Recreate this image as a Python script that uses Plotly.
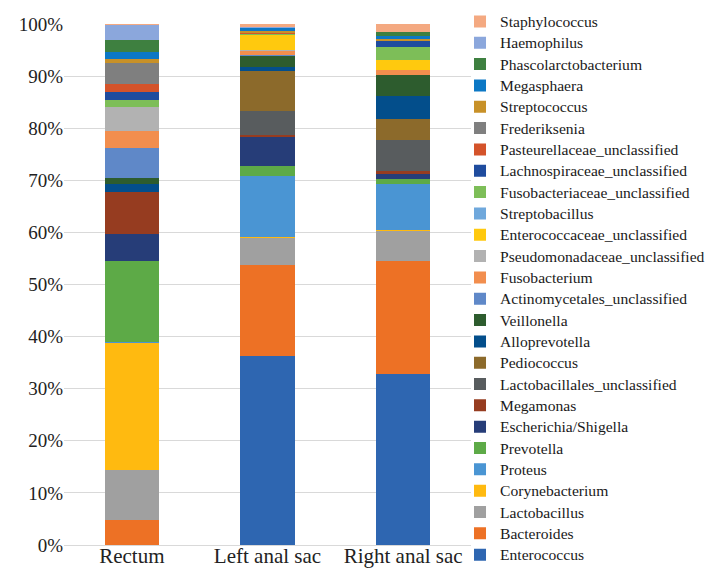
import plotly.graph_objects as go

categories = ["Rectum", "Left anal sac", "Right anal sac"]

# bottom-to-top stacking order
taxa = [
    "Enterococcus", "Bacteroides", "Lactobacillus", "Corynebacterium", "Proteus",
    "Prevotella", "Escherichia/Shigella", "Megamonas", "Lactobacillales_unclassified",
    "Pediococcus", "Alloprevotella", "Veillonella", "Actinomycetales_unclassified",
    "Fusobacterium", "Pseudomonadaceae_unclassified", "Enterococcaceae_unclassified",
    "Streptobacillus", "Fusobacteriaceae_unclassified", "Lachnospiraceae_unclassified",
    "Pasteurellaceae_unclassified", "Frederiksenia", "Streptococcus", "Megasphaera",
    "Phascolarctobacterium", "Haemophilus", "Staphylococcus",
]

# relative abundance (%) per sample, same order as taxa
rectum = [0, 4.85, 9.5, 24.5, 0.2, 15.5, 5.2, 8.1, 0, 0, 1.5, 1.1, 5.75, 3.2, 4.7,
          0, 0, 1.35, 1.5, 1.6, 3.9, 0.77, 1.4, 2.36, 2.92, 0.1]
left_anal_sac = [36.2, 17.5, 5.25, 0.2, 11.6, 2.0, 5.5, 0.5, 4.5, 7.8, 0.77, 2.2, 0.05,
                 0.8, 0.2, 2.85, 0.05, 0.15, 0.15, 0.05, 0.1, 0.15, 0.75, 0.1, 0.06, 0.52]
right_anal_sac = [32.9, 21.6, 5.8, 0.25, 8.8, 0.9, 1.0, 0.46, 5.95, 4.1, 4.5, 4.0, 0,
                  0.9, 0, 2.0, 0, 2.4, 1.3, 0, 0, 0.2, 0.65, 0.77, 0, 1.52]

colors = [
    "#2E66B1", "#ED7125", "#A0A0A0", "#FFBA10", "#4A95D3",
    "#5DAA47", "#263D78", "#963C20", "#585C5E",
    "#8C6A2B", "#034E8B", "#2D5C2E", "#5F88C8",
    "#F28E4E", "#B2B2B2", "#FFC90E",
    "#6FA8DC", "#7DBE58", "#1F4C9E",
    "#D4532A", "#7F7F7F", "#C89128", "#0C78C5",
    "#3E8040", "#8BA7DC", "#F4A981",
]

fig = go.Figure()
for i, name in enumerate(taxa):
    vals = [rectum[i] / 100, left_anal_sac[i] / 100, right_anal_sac[i] / 100]
    fig.add_trace(go.Bar(
        x=categories, y=vals,
        name='<span style="font-size:15.6px">' + name + '</span>',
        hovertemplate=name + ": %{y:.2%}<extra></extra>",
        marker=dict(color=colors[i], line=dict(width=0)),
    ))

font_family = "Liberation Serif"
fig.update_layout(
    barmode="stack",
    bargap=0.6,
    width=718, height=578,
    margin=dict(l=56, r=255, t=16, b=41, autoexpand=False),
    paper_bgcolor="white", plot_bgcolor="white",
    font=dict(family=font_family, color="#222222"),
    showlegend=True,
    legend=dict(
        traceorder="reversed",
        x=0.973, xanchor="left", y=1.035, yanchor="top",
        font=dict(size=14.1, family=font_family, color="#1a1a1a"),
        itemwidth=30, bgcolor="rgba(0,0,0,0)",
        maxheight=600,
    ),
    xaxis=dict(
        showline=True, linecolor="#D9D9D9", linewidth=1,
        tickfont=dict(size=21, family=font_family, color="#222222"),
        ticks="", ticklabelstandoff=-8, automargin=False,
    ),
    yaxis=dict(
        range=[0, 1], dtick=0.1, tickformat=".0%",
        showgrid=True, gridcolor="#D9D9D9", gridwidth=1,
        zeroline=False, showline=False, ticks="",
        tickfont=dict(size=19, family=font_family, color="#222222"),
        ticklabelstandoff=0, automargin=False,
    ),
)

fig.write_html("out.html")
